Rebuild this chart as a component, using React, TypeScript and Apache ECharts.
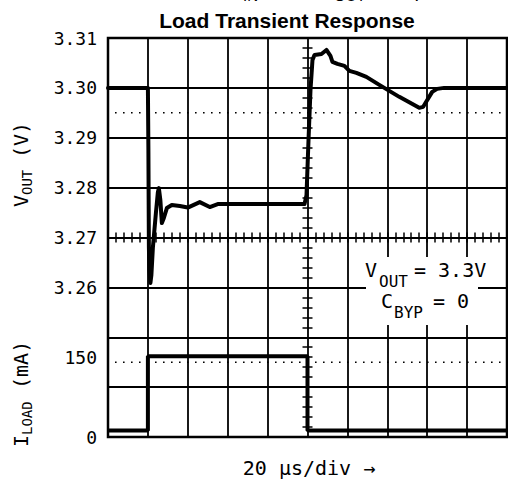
import React, { useEffect, useRef } from "react";
import * as echarts from "echarts";

// time axis: µs (20 µs/div, 10 divisions)
const voutTime = [0, 20, 20.25, 20.5, 20.75, 21.25, 21.75, 22.5, 24, 25, 25.5, 26.25, 27, 28, 29.5, 32, 36, 40, 46, 51, 55, 98.5, 99.5, 100.5, 101.5, 102.5, 103.5, 107, 109.5, 111.5, 112.5, 115, 118.5, 121, 124.5, 129.5, 136, 146, 156, 158, 159.5, 162.5, 165, 168.5, 176, 200];
const voutValues = [3.3, 3.3, 3.2875, 3.268, 3.2635, 3.2609, 3.2625, 3.268, 3.2749, 3.2791, 3.2799, 3.2775, 3.2729, 3.2739, 3.2759, 3.2765, 3.2763, 3.276, 3.2771, 3.2761, 3.2767, 3.2767, 3.2785, 3.2895, 3.2996, 3.3056, 3.3066, 3.3068, 3.3076, 3.3064, 3.3052, 3.3048, 3.3044, 3.3034, 3.303, 3.3022, 3.3006, 3.2982, 3.296, 3.2962, 3.2972, 3.2992, 3.2998, 3.3, 3.3, 3.3];

const iloadTime = [0, 20, 20, 100, 100, 200];
const iloadValues = [12, 12, 152, 152, 12, 12];

const voutTicks = ["3.31", "3.30", "3.29", "3.28", "3.27", "3.26"];
const iloadTicks = ["0", "150"];
const dottedLevels = [3.295, 3.245];
const timeRange = [0, 200];

const MONO = "DejaVu Sans Mono";

export default function App() {
  const ref = useRef<HTMLDivElement>(null);
  useEffect(() => {
    if (!ref.current) return;
    const chart = echarts.init(ref.current, null, { renderer: "svg" });
    const black = "#000";
    const minorX = (inside: boolean) => ({
      type: "value",
      min: 0,
      max: 200,
      interval: 4,
      position: "bottom",
      offset: -199.5,
      axisLine: { show: false },
      axisTick: { show: true, inside, length: 5, lineStyle: { color: black, width: 1.5 } },
      axisLabel: { show: false },
      splitLine: { show: false },
    });
    const minorY = (inside: boolean) => ({
      type: "value",
      min: 3.23,
      max: 3.31,
      interval: 0.002,
      position: "left",
      offset: -199.5,
      axisLine: { show: false },
      axisTick: { show: true, inside, length: 5, lineStyle: { color: black, width: 1.5 } },
      axisLabel: { show: false },
      splitLine: { show: false },
    });
    const txt = (x: number, y: number, text: string, size: number, extra: any = {}) => ({
      type: "text",
      x,
      y,
      z: 101,
      style: {
        text,
        fontFamily: MONO,
        fontSize: size,
        fill: black,
        textAlign: "left",
        textVerticalAlign: "middle",
        ...extra,
      },
    });
    const clip = (x: number, y: number, text: string, size: number, align = "left") => ({
      type: "text",
      x,
      y,
      style: { text, fontFamily: "Liberation Sans", fontSize: size, fill: black, textAlign: align, textVerticalAlign: "bottom" },
    });
    const dottedSeries = dottedLevels.map((v) => ({
      type: "line",
      xAxisIndex: 0,
      yAxisIndex: 0,
      data: timeRange.map((t) => [t, v]),
      symbol: "none",
      silent: true,
      z: 3,
      lineStyle: { color: black, width: 1.6, type: [1.6, 6.4], dashOffset: 0.8 },
    }));
    chart.setOption({
      animation: false,
      backgroundColor: "#fff",
      grid: {
        left: 108,
        top: 38,
        width: 399,
        height: 399,
        show: true,
        borderColor: black,
        borderWidth: 2.5,
        containLabel: false,
      },
      xAxis: [
        {
          type: "value",
          min: 0,
          max: 200,
          interval: 20,
          axisLine: { show: false },
          axisTick: { show: false },
          axisLabel: { show: false },
          splitLine: { show: true, lineStyle: { color: black, width: 1.8 } },
        },
        minorX(false),
        minorX(true),
      ],
      yAxis: [
        {
          type: "value",
          min: 3.23,
          max: 3.31,
          interval: 0.01,
          axisLine: { show: false },
          axisTick: { show: false },
          axisLabel: {
            margin: 11,
            fontFamily: MONO,
            fontSize: 18,
            color: black,
            formatter: (v: number) => {
              const s = v.toFixed(2);
              return voutTicks.includes(s) ? s : "";
            },
          },
          splitLine: { show: true, lineStyle: { color: black, width: 1.8 } },
        },
        {
          type: "value",
          min: 0,
          max: 750,
          interval: 150,
          position: "left",
          offset: 0,
          axisLine: { show: false },
          axisTick: { show: false },
          axisLabel: {
            margin: 11,
            fontFamily: MONO,
            fontSize: 18,
            color: black,
            formatter: (v: number) => (iloadTicks.includes(String(v)) ? String(v) : ""),
          },
          splitLine: { show: false },
        },
        minorY(false),
        minorY(true),
      ],
      series: [
        ...dottedSeries,
        {
          type: "line",
          xAxisIndex: 0,
          yAxisIndex: 0,
          data: voutTime.map((t, i) => [t, voutValues[i]]),
          symbol: "none",
          lineStyle: { color: black, width: 4, join: "round", cap: "round" },
          silent: true,
          z: 5,
        },
        {
          type: "line",
          xAxisIndex: 0,
          yAxisIndex: 1,
          data: iloadTime.map((t, i) => [t, iloadValues[i]]),
          symbol: "none",
          lineStyle: { color: black, width: 4 },
          silent: true,
          z: 5,
        },
      ],
      graphic: [
        // first title line, clipped at the top edge as in the reference
        clip(243, -4, "V", 20, "right"),
        clip(243, 3, "IN", 15),
        clip(263, 0, " = 5V, C", 20),
        clip(334, 3, "OUT", 15),
        clip(364, 0, " = 4.7µF,", 20),
        // title
        { type: "text", x: 287, y: 20, style: { text: "Load Transient Response", fontFamily: "Liberation Sans", fontWeight: "bold", fontSize: 21, fill: black, textAlign: "center", textVerticalAlign: "middle" } },
        // annotation box
        { type: "rect", z: 100, shape: { x: 366, y: 257, width: 112, height: 68 }, style: { fill: "#fff" } },
        txt(365, 270, "V", 20),
        txt(379, 281, "OUT", 16),
        txt(414, 270, "= 3.3V", 20),
        txt(381, 301, "C", 20),
        txt(394, 312, "BYP", 16),
        txt(433, 301, "= 0", 20),
        // y axis names
        {
          type: "group",
          x: 21,
          y: 207,
          rotation: Math.PI / 2,
          children: [
            txt(0, 0, "V", 20),
            txt(12, 6, "OUT", 14),
            txt(37, 0, " (V)", 20),
          ],
        },
        {
          type: "group",
          x: 21,
          y: 447,
          rotation: Math.PI / 2,
          children: [
            txt(0, 0, "I", 20),
            txt(12, 6, "LOAD", 14),
            txt(46, 0, " (mA)", 20),
          ],
        },
        // x axis caption
        txt(309, 468, "20 µs/div →", 20, { textAlign: "center" }),
      ],
    });
    return () => chart.dispose();
  }, []);
  return <div ref={ref} style={{ position: "fixed", left: 0, top: 0, width: 508, height: 481 }} />;
}
